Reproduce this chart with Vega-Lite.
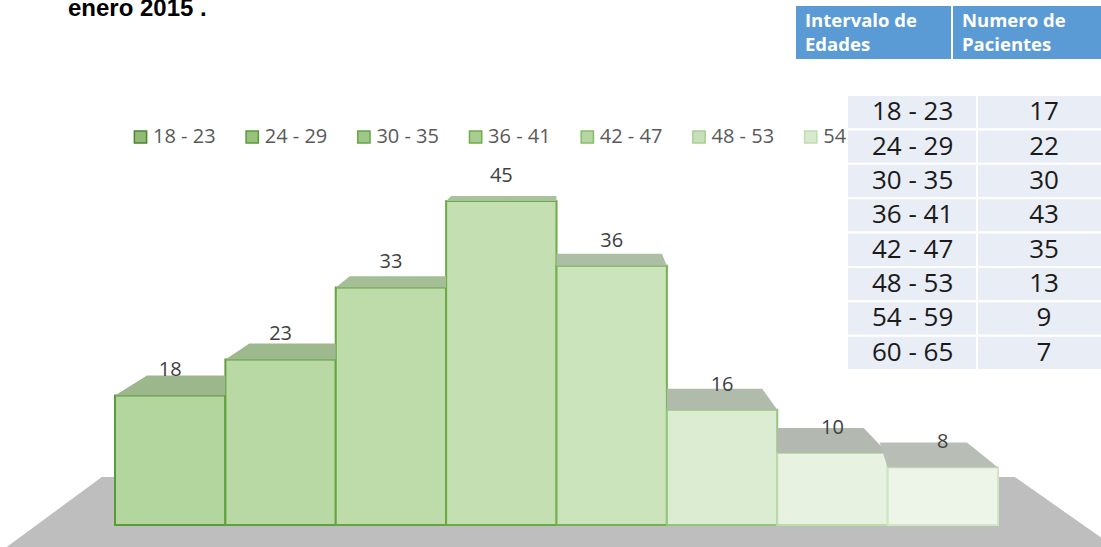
{
  "$schema": "https://vega.github.io/schema/vega-lite/v6.json",
  "width": 883,
  "height": 432,
  "autosize": {"type": "none"},
  "padding": {"left": 115, "top": 93, "right": 103, "bottom": 22},
  "background": "#ffffff",
  "config": {"view": {"stroke": null}},
  "title": {
    "text": "enero 2015 .",
    "anchor": "start",
    "frame": "group",
    "dx": -47,
    "offset": -36,
    "baseline": "alphabetic",
    "font": "Liberation Sans",
    "fontSize": 24,
    "fontWeight": "bold",
    "color": "#000000"
  },
  "datasets": {
    "histograma": [
      {"edades": "18 - 23", "pacientes": 18},
      {"edades": "24 - 29", "pacientes": 23},
      {"edades": "30 - 35", "pacientes": 33},
      {"edades": "36 - 41", "pacientes": 45},
      {"edades": "42 - 47", "pacientes": 36},
      {"edades": "48 - 53", "pacientes": 16},
      {"edades": "54 - 59", "pacientes": 10},
      {"edades": "60 - 65", "pacientes": 8}
    ],
    "tabla": [
      {"intervalo": "18 - 23", "columna": "Intervalo de Edades", "valor": "18 - 23"},
      {"intervalo": "24 - 29", "columna": "Intervalo de Edades", "valor": "24 - 29"},
      {"intervalo": "30 - 35", "columna": "Intervalo de Edades", "valor": "30 - 35"},
      {"intervalo": "36 - 41", "columna": "Intervalo de Edades", "valor": "36 - 41"},
      {"intervalo": "42 - 47", "columna": "Intervalo de Edades", "valor": "42 - 47"},
      {"intervalo": "48 - 53", "columna": "Intervalo de Edades", "valor": "48 - 53"},
      {"intervalo": "54 - 59", "columna": "Intervalo de Edades", "valor": "54 - 59"},
      {"intervalo": "60 - 65", "columna": "Intervalo de Edades", "valor": "60 - 65"},
      {"intervalo": "18 - 23", "columna": "Numero de Pacientes", "valor": "17"},
      {"intervalo": "24 - 29", "columna": "Numero de Pacientes", "valor": "22"},
      {"intervalo": "30 - 35", "columna": "Numero de Pacientes", "valor": "30"},
      {"intervalo": "36 - 41", "columna": "Numero de Pacientes", "valor": "43"},
      {"intervalo": "42 - 47", "columna": "Numero de Pacientes", "valor": "35"},
      {"intervalo": "48 - 53", "columna": "Numero de Pacientes", "valor": "13"},
      {"intervalo": "54 - 59", "columna": "Numero de Pacientes", "valor": "9"},
      {"intervalo": "60 - 65", "columna": "Numero de Pacientes", "valor": "7"}
    ],
    "encabezados": [
      {"encabezado": "Intervalo de\nEdades", "fila": "cabecera"},
      {"encabezado": "Numero de\nPacientes", "fila": "cabecera"}
    ],
    "leyenda": [
      {"edades": "18 - 23", "fila": "leyenda"},
      {"edades": "24 - 29", "fila": "leyenda"},
      {"edades": "30 - 35", "fila": "leyenda"},
      {"edades": "36 - 41", "fila": "leyenda"},
      {"edades": "42 - 47", "fila": "leyenda"},
      {"edades": "48 - 53", "fila": "leyenda"},
      {"edades": "54 - 59", "fila": "leyenda"}
    ]
  },
  "layer": [
    {
      "data": {"values": [{"edades": "42 - 47", "pacientes": 0}]},
      "mark": {
        "type": "point",
        "shape": "M-0.927,-0.0873L0.733,-0.0873L0.948,0.0636L-1.132,0.0636Z",
        "size": 1210000,
        "filled": true,
        "fill": "#bebebe",
        "opacity": 1,
        "strokeWidth": 0
      },
      "encoding": {
        "x": {"field": "edades", "type": "nominal", "axis": null,
          "scale": {"type": "band", "domain": ["18 - 23", "24 - 29", "30 - 35", "36 - 41", "42 - 47", "48 - 53", "54 - 59", "60 - 65"], "paddingInner": 0, "paddingOuter": 0}},
        "y": {"field": "pacientes", "type": "quantitative", "axis": null, "scale": {"domain": [0, 60], "nice": false}}
      }
    },
    {
      "data": {"name": "histograma"},
      "mark": {"type": "bar", "strokeWidth": 2, "opacity": 1},
      "encoding": {
        "x": {"field": "edades", "type": "nominal", "axis": null,
          "scale": {"type": "band", "domain": ["18 - 23", "24 - 29", "30 - 35", "36 - 41", "42 - 47", "48 - 53", "54 - 59", "60 - 65"], "paddingInner": 0, "paddingOuter": 0}},
        "y": {"field": "pacientes", "type": "quantitative", "axis": null, "scale": {"domain": [0, 60], "nice": false}},
        "fill": {"field": "edades", "type": "nominal", "legend": null,
          "scale": {"domain": ["18 - 23", "24 - 29", "30 - 35", "36 - 41", "42 - 47", "48 - 53", "54 - 59", "60 - 65"],
            "range": ["#b3d69e", "#b8d9a3", "#bedcaa", "#c4e0b2", "#cce4bc", "#dcecd2", "#e7f2e0", "#edf5e8"]}},
        "stroke": {"field": "edades", "type": "nominal", "legend": null,
          "scale": {"domain": ["18 - 23", "24 - 29", "30 - 35", "36 - 41", "42 - 47", "48 - 53", "54 - 59", "60 - 65"],
            "range": ["#5b9a39", "#60a03e", "#66a542", "#6caa46", "#77b052", "#94c57c", "#bcdcab", "#d0e6c4"]}}
      }
    },
    {
      "data": {"name": "histograma"},
      "mark": {"type": "point", "filled": true, "opacity": 1, "strokeWidth": 0, "size": 12183},
      "encoding": {
        "x": {"field": "edades", "type": "nominal", "axis": null,
          "scale": {"type": "band", "domain": ["18 - 23", "24 - 29", "30 - 35", "36 - 41", "42 - 47", "48 - 53", "54 - 59", "60 - 65"], "paddingInner": 0, "paddingOuter": 0}},
        "y": {"field": "pacientes", "type": "quantitative", "axis": null, "scale": {"domain": [0, 60], "nice": false}},
        "fill": {"field": "edades", "type": "nominal", "legend": null,
          "scale": {"domain": ["18 - 23", "24 - 29", "30 - 35", "36 - 41", "42 - 47", "48 - 53", "54 - 59", "60 - 65"],
            "range": ["#9cb78c", "#9eb98e", "#a4be96", "#a8c29b", "#acbea4", "#b1bbab", "#b3b9b0", "#b8bdb5"]}},
        "shape": {"field": "edades", "type": "nominal", "legend": null,
          "scale": {"domain": ["18 - 23", "24 - 29", "30 - 35", "36 - 41", "42 - 47", "48 - 53", "54 - 59", "60 - 65"],
            "range": [
              "M-1,0L1,0L1,-0.362L-0.42,-0.362Z",
              "M-1,0L1,0L1,-0.29L-0.565,-0.29Z",
              "M-1,0L1,0L1,-0.2L-0.746,-0.2Z",
              "M-1,0L1,0L1,-0.09L-0.91,-0.09Z",
              "M-1,0L1,0L0.91,-0.217L-1,-0.217Z",
              "M-1,0L1,0L0.728,-0.38L-1,-0.38Z",
              "M-1,0L1,0L0.565,-0.453L-1,-0.453Z",
              "M-1,0L1,0L0.438,-0.453L-1.145,-0.453Z"
            ]}}
      }
    },
    {
      "data": {"name": "histograma"},
      "mark": {"type": "text", "dy": -25, "baseline": "middle", "font": "Open Sans", "fontSize": 20, "color": "#404040"},
      "encoding": {
        "x": {"field": "edades", "type": "nominal", "axis": null,
          "scale": {"type": "band", "domain": ["18 - 23", "24 - 29", "30 - 35", "36 - 41", "42 - 47", "48 - 53", "54 - 59", "60 - 65"], "paddingInner": 0, "paddingOuter": 0}},
        "y": {"field": "pacientes", "type": "quantitative", "axis": null, "scale": {"domain": [0, 60], "nice": false}},
        "text": {"field": "pacientes", "type": "quantitative"}
      }
    },
    {
      "data": {"name": "leyenda"},
      "mark": {"type": "point", "shape": "square", "size": 150, "filled": true, "opacity": 1, "strokeWidth": 1.5},
      "encoding": {
        "x": {"field": "edades", "type": "nominal", "axis": null,
          "scale": {"type": "point", "domain": ["18 - 23", "24 - 29", "30 - 35", "36 - 41", "42 - 47", "48 - 53", "54 - 59", "60 - 65"], "range": [25.5, 807.4], "padding": 0}},
        "y": {"field": "fila", "type": "nominal", "axis": null, "scale": {"type": "band", "range": [30, 58], "paddingInner": 0, "paddingOuter": 0}},
        "fill": {"field": "edades", "type": "nominal", "legend": null,
          "scale": {"domain": ["18 - 23", "24 - 29", "30 - 35", "36 - 41", "42 - 47", "48 - 53", "54 - 59", "60 - 65"],
            "range": ["#8fbb76", "#97c27e", "#9fc788", "#a8cd93", "#b5d5a3", "#c7e0b9", "#d8eacd", "#e4f0dd"]}},
        "stroke": {"field": "edades", "type": "nominal", "legend": null,
          "scale": {"domain": ["18 - 23", "24 - 29", "30 - 35", "36 - 41", "42 - 47", "48 - 53", "54 - 59", "60 - 65"],
            "range": ["#4f8431", "#5a9a38", "#65a544", "#70ad47", "#86bd68", "#a6cf8f", "#c0dcb0", "#d2e7c7"]}}
      }
    },
    {
      "data": {"name": "leyenda"},
      "mark": {"type": "text", "align": "left", "dx": 12.5, "baseline": "middle", "font": "Open Sans", "fontSize": 20, "color": "#595959"},
      "encoding": {
        "x": {"field": "edades", "type": "nominal", "axis": null,
          "scale": {"type": "point", "domain": ["18 - 23", "24 - 29", "30 - 35", "36 - 41", "42 - 47", "48 - 53", "54 - 59", "60 - 65"], "range": [25.5, 807.4], "padding": 0}},
        "y": {"field": "fila", "type": "nominal", "axis": null, "scale": {"type": "band", "range": [30, 58], "paddingInner": 0, "paddingOuter": 0}},
        "text": {"field": "edades", "type": "nominal"}
      }
    },
    {
      "data": {"name": "encabezados"},
      "mark": {"type": "rect", "fill": "#5b9bd5", "stroke": "#ffffff", "strokeWidth": 2},
      "encoding": {
        "x": {"field": "encabezado", "type": "nominal", "sort": null, "axis": null,
          "scale": {"type": "band", "range": [680, 994], "paddingInner": 0, "paddingOuter": 0}},
        "y": {"field": "fila", "type": "nominal", "axis": null,
          "scale": {"type": "band", "range": [-88, -33], "paddingInner": 0, "paddingOuter": 0}}
      }
    },
    {
      "data": {"name": "encabezados"},
      "mark": {"type": "text", "align": "left", "dx": -68.5, "dy": -12, "baseline": "middle", "lineBreak": "\n", "lineHeight": 24,
        "font": "Open Sans", "fontSize": 18.5, "fontWeight": "bold", "color": "#ffffff"},
      "encoding": {
        "x": {"field": "encabezado", "type": "nominal", "sort": null, "axis": null,
          "scale": {"type": "band", "range": [680, 994], "paddingInner": 0, "paddingOuter": 0}},
        "y": {"field": "fila", "type": "nominal", "axis": null,
          "scale": {"type": "band", "range": [-88, -33], "paddingInner": 0, "paddingOuter": 0}},
        "text": {"field": "encabezado", "type": "nominal"}
      }
    },
    {
      "data": {"name": "tabla"},
      "mark": {"type": "rect", "fill": "#e9edf5", "stroke": "#ffffff", "strokeWidth": 2},
      "encoding": {
        "x": {"field": "columna", "type": "nominal", "axis": null,
          "scale": {"type": "band", "domain": ["Intervalo de Edades", "Numero de Pacientes"], "range": [732, 992], "paddingInner": 0, "paddingOuter": 0}},
        "y": {"field": "intervalo", "type": "nominal", "axis": null,
          "scale": {"type": "band", "domain": ["18 - 23", "24 - 29", "30 - 35", "36 - 41", "42 - 47", "48 - 53", "54 - 59", "60 - 65"], "range": [2, 277], "paddingInner": 0, "paddingOuter": 0}}
      }
    },
    {
      "data": {"name": "tabla"},
      "transform": [{"filter": "datum.columna === 'Intervalo de Edades'"}],
      "mark": {"type": "text", "align": "left", "dx": -40, "baseline": "middle", "font": "Open Sans", "fontSize": 26, "color": "#1a1a1a"},
      "encoding": {
        "x": {"field": "columna", "type": "nominal", "axis": null,
          "scale": {"type": "band", "domain": ["Intervalo de Edades", "Numero de Pacientes"], "range": [732, 992], "paddingInner": 0, "paddingOuter": 0}},
        "y": {"field": "intervalo", "type": "nominal", "axis": null,
          "scale": {"type": "band", "domain": ["18 - 23", "24 - 29", "30 - 35", "36 - 41", "42 - 47", "48 - 53", "54 - 59", "60 - 65"], "range": [2, 277], "paddingInner": 0, "paddingOuter": 0}},
        "text": {"field": "valor", "type": "nominal"}
      }
    },
    {
      "data": {"name": "tabla"},
      "transform": [{"filter": "datum.columna === 'Numero de Pacientes'"}],
      "mark": {"type": "text", "align": "center", "dx": 2, "baseline": "middle", "font": "Open Sans", "fontSize": 26, "color": "#1a1a1a"},
      "encoding": {
        "x": {"field": "columna", "type": "nominal", "axis": null,
          "scale": {"type": "band", "domain": ["Intervalo de Edades", "Numero de Pacientes"], "range": [732, 992], "paddingInner": 0, "paddingOuter": 0}},
        "y": {"field": "intervalo", "type": "nominal", "axis": null,
          "scale": {"type": "band", "domain": ["18 - 23", "24 - 29", "30 - 35", "36 - 41", "42 - 47", "48 - 53", "54 - 59", "60 - 65"], "range": [2, 277], "paddingInner": 0, "paddingOuter": 0}},
        "text": {"field": "valor", "type": "nominal"}
      }
    }
  ],
  "resolve": {"scale": {"x": "independent", "y": "independent", "fill": "independent", "stroke": "independent", "shape": "independent"}}
}
